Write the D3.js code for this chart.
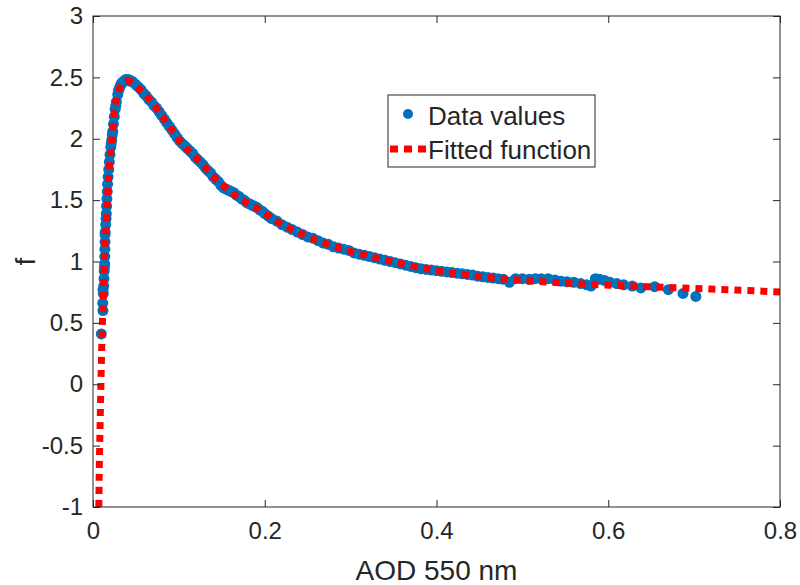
<!DOCTYPE html>
<html lang="en">
<head>
  <meta charset="UTF-8">
  <title>f vs AOD 550 nm</title>
  <script src='https://d3js.org/d3.v7.min.js'></script>
  <style>
    body { margin: 0; background: #fff; }
    text { font-family: 'Liberation Sans', Arial, sans-serif; fill: #262626; }
  </style>
</head>
<body>
</body>
<script>
  const width = 800, height = 585;
  const margin = {top: 16, right: 20, bottom: 78, left: 93};

  // measured points (AOD, f)
  const dataX = [
    0.0097, 0.0116, 0.0113, 0.0116, 0.0120, 0.0125, 0.0128, 0.0130, 0.0133, 0.0136,
    0.0137, 0.0138, 0.0140, 0.0140, 0.0142, 0.0148, 0.0152, 0.0155, 0.0158, 0.0162,
    0.0166, 0.0170, 0.0176, 0.0183, 0.0190, 0.0198, 0.0207, 0.0212, 0.0218, 0.0224,
    0.0230, 0.0238, 0.0248, 0.0258, 0.0265, 0.0272, 0.0288, 0.0296, 0.0305, 0.0318,
    0.0330, 0.0345, 0.0360, 0.0375, 0.0390, 0.0405, 0.0420, 0.0435, 0.0450, 0.0470,
    0.050, 0.053, 0.056, 0.059, 0.062, 0.065, 0.068, 0.071, 0.074, 0.077,
    0.080, 0.083, 0.086, 0.089, 0.092, 0.095, 0.098, 0.101, 0.104, 0.107,
    0.110, 0.113, 0.116, 0.119, 0.122, 0.125, 0.128, 0.131, 0.134, 0.137,
    0.140, 0.143, 0.146, 0.149, 0.152, 0.155, 0.158, 0.161, 0.164, 0.167,
    0.170, 0.173, 0.176, 0.179, 0.182, 0.185, 0.188, 0.191, 0.194, 0.197,
    0.200, 0.204, 0.208, 0.214, 0.220, 0.226,
    0.232, 0.238, 0.244, 0.250, 0.256, 0.262, 0.268, 0.274, 0.280, 0.286,
    0.292, 0.298, 0.304, 0.310, 0.316, 0.322, 0.328, 0.334, 0.340, 0.346,
    0.352, 0.358, 0.364, 0.370, 0.376, 0.382, 0.388, 0.394, 0.400, 0.406,
    0.412, 0.418, 0.424, 0.430, 0.436, 0.442, 0.448, 0.454, 0.460, 0.466,
    0.472, 0.478, 0.485, 0.492, 0.500, 0.508, 0.515, 0.522, 0.530, 0.538,
    0.545, 0.552, 0.560, 0.568, 0.575, 0.580, 0.585, 0.590, 0.596, 0.602,
    0.610, 0.618, 0.628, 0.638, 0.654, 0.670, 0.687, 0.702
  ];
  const dataY = [
    0.41, 0.60, 0.66, 0.77, 0.74, 0.80, 0.86, 0.92, 0.95, 0.98,
    1.04, 1.10, 1.16, 1.22, 1.24, 1.30, 1.35, 1.39, 1.45, 1.51,
    1.57, 1.63, 1.69, 1.75, 1.81, 1.87, 1.93, 1.96, 1.99, 2.03,
    2.06, 2.12, 2.18, 2.24, 2.27, 2.30, 2.36, 2.39, 2.41, 2.43,
    2.45, 2.46, 2.47, 2.48, 2.48, 2.48, 2.48, 2.47, 2.47, 2.46,
    2.44, 2.42, 2.40, 2.37, 2.35, 2.32, 2.30, 2.27, 2.25, 2.22,
    2.19, 2.16, 2.13, 2.10, 2.07, 2.04, 2.01, 1.98, 1.96, 1.94,
    1.92, 1.90, 1.88, 1.85, 1.83, 1.81, 1.79, 1.76, 1.74, 1.72,
    1.69, 1.67, 1.65, 1.62, 1.60, 1.59, 1.58, 1.57, 1.56, 1.54,
    1.53, 1.51, 1.50, 1.48, 1.47, 1.46, 1.45, 1.44, 1.42, 1.41,
    1.39, 1.37, 1.35, 1.33, 1.30, 1.28,
    1.26, 1.24, 1.22, 1.20, 1.19, 1.17, 1.15, 1.14, 1.12, 1.11,
    1.10, 1.09, 1.07, 1.06, 1.05, 1.04, 1.03, 1.02, 1.01, 1.00,
    0.99, 0.98, 0.97, 0.96, 0.95, 0.94, 0.935, 0.93, 0.925, 0.92,
    0.915, 0.91, 0.905, 0.90, 0.895, 0.89, 0.88, 0.875, 0.87, 0.865,
    0.86, 0.855, 0.83, 0.86, 0.86, 0.855, 0.86, 0.86, 0.86, 0.85,
    0.84, 0.835, 0.83, 0.82, 0.81, 0.80, 0.86, 0.855, 0.845, 0.83,
    0.82, 0.81, 0.80, 0.785, 0.795, 0.77, 0.74, 0.715
  ];

  // fitted curve
  const fitX = [
    0.0068, 0.0072, 0.0078, 0.0085, 0.0092, 0.0100, 0.0108, 0.0116, 0.0128, 0.0136,
    0.0155, 0.0167, 0.0186, 0.0221, 0.0250, 0.0290, 0.0350, 0.0416, 0.050, 0.066,
    0.078, 0.091, 0.101, 0.1246, 0.144, 0.167, 0.194, 0.218, 0.249, 0.2915,
    0.336, 0.396, 0.4565, 0.548, 0.645, 0.72, 0.8
  ];
  const fitY = [
    -1.00, -0.75, -0.50, -0.25, 0.00, 0.25, 0.47, 0.63, 0.88, 1.09,
    1.31, 1.50, 1.72, 2.00, 2.23, 2.37, 2.45, 2.47, 2.43, 2.32,
    2.21, 2.08, 1.98, 1.81, 1.665, 1.53, 1.42, 1.31, 1.205, 1.10,
    1.02, 0.93, 0.872, 0.825, 0.795, 0.775, 0.752
  ];

  const xTicks = [0, 0.2, 0.4, 0.6, 0.8];
  const yTicks = [-1, -0.5, 0, 0.5, 1, 1.5, 2, 2.5, 3];
  const legendLabels = ['Data values', 'Fitted function'];

  const blue = '#0072BD', red = '#FF0000', axisColor = '#262626';

  const svg = d3.select('body').append('svg')
    .attr('width', width).attr('height', height);

  const x = d3.scaleLinear().domain([0, 0.8]).range([margin.left, width - margin.right]);
  const y = d3.scaleLinear().domain([-1, 3]).range([height - margin.bottom, margin.top]);

  const fmt = d => String(d);

  // clip for plot area
  svg.append('clipPath').attr('id', 'clip')
    .append('rect')
    .attr('x', x(0)).attr('y', y(3))
    .attr('width', x(0.8) - x(0)).attr('height', y(-1) - y(3));

  const plot = svg.append('g').attr('clip-path', 'url(#clip)');

  const points = dataX.map((v, i) => [v, dataY[i]]);
  plot.selectAll('circle')
    .data(points)
    .join('circle')
    .attr('cx', d => x(d[0]))
    .attr('cy', d => y(d[1]))
    .attr('r', 5.5)
    .attr('fill', blue);

  const fit = fitX.map((v, i) => [v, fitY[i]]);
  plot.append('path')
    .datum(fit)
    .attr('fill', 'none')
    .attr('stroke', red)
    .attr('stroke-width', 7)
    .attr('stroke-dasharray', '7,6')
    .attr('d', d3.line().x(d => x(d[0])).y(d => y(d[1])).curve(d3.curveMonotoneX));

  // axes, MATLAB style box with inward ticks
  function styleAxis(g) {
    g.select('.domain').remove();
    g.selectAll('.tick line').attr('stroke', axisColor).attr('stroke-width', 1);
    g.selectAll('.tick text').attr('fill', axisColor)
      .style('font-family', "'Liberation Sans', Arial, sans-serif")
      .style('font-size', '24px');
  }

  svg.append('g')
    .attr('transform', `translate(0,${y(-1)})`)
    .call(d3.axisBottom(x).tickValues(xTicks).tickFormat(fmt).tickSize(-7).tickPadding(15))
    .call(styleAxis);
  svg.append('g')
    .attr('transform', `translate(0,${y(3)})`)
    .call(d3.axisTop(x).tickValues(xTicks).tickFormat('').tickSize(-7))
    .call(styleAxis);
  svg.append('g')
    .attr('transform', `translate(${x(0)},0)`)
    .call(d3.axisLeft(y).tickValues(yTicks).tickFormat(fmt).tickSize(-7).tickPadding(10))
    .call(styleAxis);
  svg.append('g')
    .attr('transform', `translate(${x(0.8)},0)`)
    .call(d3.axisRight(y).tickValues(yTicks).tickFormat('').tickSize(-7))
    .call(styleAxis);

  svg.append('rect')
    .attr('x', x(0)).attr('y', y(3))
    .attr('width', x(0.8) - x(0)).attr('height', y(-1) - y(3))
    .attr('fill', 'none')
    .attr('stroke', axisColor)
    .attr('stroke-width', 1);

  // axis labels
  svg.append('text')
    .attr('x', (x(0) + x(0.8)) / 2)
    .attr('y', 580)
    .attr('text-anchor', 'middle')
    .style('font-size', '28px')
    .text('AOD 550 nm');

  svg.append('text')
    .attr('transform', `translate(35,${(y(-1) + y(3)) / 2}) rotate(-90)`)
    .attr('text-anchor', 'middle')
    .style('font-size', '28px')
    .text('f');

  // legend
  const legend = svg.append('g');
  legend.append('rect')
    .attr('x', 388).attr('y', 95)
    .attr('width', 207).attr('height', 72)
    .attr('fill', '#fff')
    .attr('stroke', axisColor)
    .attr('stroke-width', 1);
  legend.append('circle')
    .attr('cx', 408).attr('cy', 114).attr('r', 5).attr('fill', blue);
  legend.append('line')
    .attr('x1', 390).attr('x2', 426).attr('y1', 149).attr('y2', 149)
    .attr('stroke', red).attr('stroke-width', 7).attr('stroke-dasharray', '8,6');
  legend.selectAll('text.lab')
    .data(legendLabels)
    .join('text')
    .attr('class', 'lab')
    .attr('x', 428)
    .attr('y', (d, i) => 125 + i * 34)
    .style('font-size', '26px')
    .text(d => d);

  console.log('ready..');
</script>
</html>
